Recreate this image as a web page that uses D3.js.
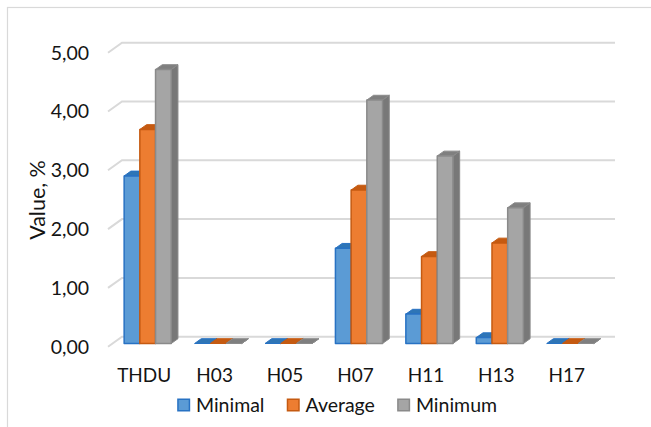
<!DOCTYPE html>
<html>
<head>
<meta charset="utf-8">
<script src="https://cdn.jsdelivr.net/npm/d3@7"></script>
<style>
  html, body { margin: 0; padding: 0; background: #ffffff; }
  svg { display: block; }
  text { font-family: Lato, "Open Sans", sans-serif; fill: #141414; }
</style>
</head>
<body>
<svg id="chart" width="651" height="427"></svg>
<script>
// Harmonic distortion figures, %
const categories = ["THDU", "H03", "H05", "H07", "H11", "H13", "H17"];
const seriesNames = ["Minimal", "Average", "Minimum"];
const minimalValues = [2.85, 0, 0, 1.62, 0.50, 0.10, 0];
const averageValues = [3.64, 0, 0, 2.61, 1.48, 1.71, 0];
const minimumValues = [4.66, 0, 0, 4.14, 3.19, 2.31, 0];
const yTicks = [0, 1, 2, 3, 4, 5];
const seriesValues = [minimalValues, averageValues, minimumValues];

// Face colours per series: front, edge, top, side
const palette = [
  { front: "#5B9BD5", edge: "#2872C3", top: "#2E75B6", side: "#2E6BA8" },
  { front: "#ED7D31", edge: "#C55A11", top: "#C55A11", side: "#B4520F" },
  { front: "#A5A5A5", edge: "#8A8A8A", top: "#7F7F7F", side: "#787878" }
];

const svg = d3.select("#chart");

// Oblique 3D projection: floor front edge at depth 0, back wall at depth 1
const floorLeft = 108, floorRight = 601;
const depthDX = 14, depthDY = -10;
const y = d3.scaleLinear().domain([0, 5]).range([346.7, 52.7]);
const x0 = d3.scaleBand().domain(categories).range([floorLeft, floorRight]);
const groupWidth = 47.1;
const x1 = d3.scaleBand().domain(seriesNames)
  .range([(x0.bandwidth() - groupWidth) / 2, (x0.bandwidth() + groupWidth) / 2]);
const proj = (px, v, depth) => [px + depthDX * depth, y(v) + depthDY * depth];

// Chart area outline
svg.append("rect")
  .attr("x", 7.5).attr("y", 7.5).attr("width", 700).attr("height", 500)
  .attr("fill", "none").attr("stroke", "#D9D9D9").attr("stroke-width", 1.2);

// Gridlines on the side edge and back wall
const grid = svg.append("g").attr("fill", "none")
  .attr("stroke", "#D9D9D9").attr("stroke-width", 2);
yTicks.forEach(t => {
  const a = proj(floorLeft, t, 0);
  const b = proj(floorLeft, t, 1);
  const c = proj(floorRight, t, 1);
  grid.append("path").attr("d", d3.line()([a, b, c]));
});

// Value axis labels
const fmt = v => d3.format(".2f")(v).replace(".", ",");
svg.append("g").selectAll("text").data(yTicks).join("text")
  .attr("x", 89).attr("y", d => y(d))
  .attr("dy", "0.35em").attr("text-anchor", "end")
  .attr("font-size", 19.5).text(fmt);

// Axis title
svg.append("text")
  .attr("transform", "translate(45,200) rotate(-90)")
  .attr("text-anchor", "middle").attr("font-size", 21.5)
  .text("Value, %");

// Bars as prisms: depth from 0.32 to 0.8 of the floor
const dFront = 0.32, dBack = 0.8;
const bars = [];
categories.forEach((c, ci) => {
  seriesNames.forEach((s, si) => {
    bars.push({ c, s, si, v: seriesValues[si][ci] });
  });
});

const barG = svg.append("g").attr("stroke-linejoin", "round");
bars.forEach(d => {
  const col = palette[d.si];
  const left = x0(d.c) + x1(d.s);
  const right = left + x1.bandwidth();
  const fTL = proj(left, d.v, dFront), fTR = proj(right, d.v, dFront);
  const fBL = proj(left, 0, dFront), fBR = proj(right, 0, dFront);
  const bTL = proj(left, d.v, dBack), bTR = proj(right, d.v, dBack);
  const bBR = proj(right, 0, dBack);
  const g = barG.append("g").attr("class", "bar");
  // right side face
  g.append("path").attr("d", d3.line()([fTR, bTR, bBR, fBR]) + "Z")
    .attr("fill", col.side).attr("stroke", col.edge).attr("stroke-width", 1);
  // top face
  g.append("path").attr("d", d3.line()([fTL, bTL, bTR, fTR]) + "Z")
    .attr("fill", col.top).attr("stroke", col.edge).attr("stroke-width", 1);
  // front face
  if (d.v > 0) {
    g.append("path").attr("d", d3.line()([fTL, fTR, fBR, fBL]) + "Z")
      .attr("fill", col.front).attr("stroke", col.edge).attr("stroke-width", 1.5);
  }
});

// Category labels
svg.append("g").selectAll("text").data(categories).join("text")
  .attr("x", d => x0(d) + x0.bandwidth() / 2 + 1)
  .attr("y", 375).attr("dy", "0.35em")
  .attr("text-anchor", "middle").attr("font-size", 19)
  .text(d => d);

// Legend
const legend = svg.append("g");
const items = legend.selectAll("g").data(seriesNames).join("g");
items.append("rect")
  .attr("width", 11.5).attr("height", 11.5).attr("y", -5.75)
  .attr("fill", (d, i) => palette[i].front)
  .attr("stroke", (d, i) => palette[i].edge).attr("stroke-width", 1.5);
items.append("text")
  .attr("x", 18).attr("dy", "0.35em").attr("font-size", 19.5)
  .text(d => d);
let cursor = 0;
items.each(function () {
  d3.select(this).attr("transform", `translate(${cursor},0)`);
  cursor += this.getBBox().width + 23;
});
const legendWidth = cursor - 23;
legend.attr("transform", `translate(${337.5 - legendWidth / 2},405)`);
</script>
</body>
</html>
